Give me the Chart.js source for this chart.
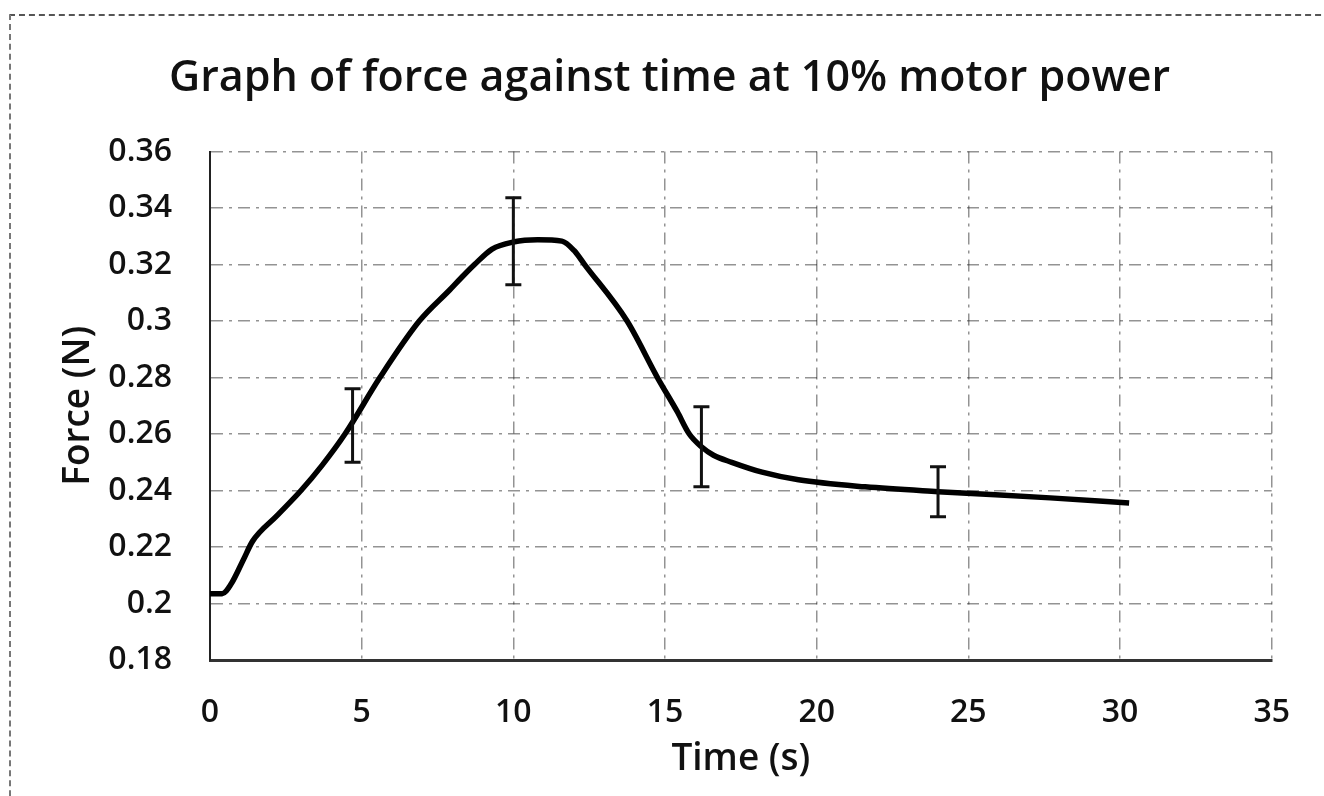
<!DOCTYPE html>
<html>
<head>
<meta charset="utf-8">
<script src="https://cdn.jsdelivr.net/npm/chart.js@4"></script>
<style>
  html, body { margin: 0; padding: 0; background: #fff; }
  #wrap { position: relative; width: 1324px; height: 796px; overflow: hidden; }
  #frame { position: absolute; left: 9px; top: 14px; width: 1330px; height: 820px;
           border-top: 2px dashed #555; border-left: 2px dashed #777; }
  canvas { position: absolute; left: 0; top: 0; }
</style>
</head>
<body>
<div id="wrap">
  <div id="frame"></div>
  <canvas id="forceChart" width="1324" height="796"></canvas>
</div>
<script>
// Data
const timeValues = [0, 0.4, 0.7, 1.1, 1.4, 2.2, 3.0, 3.7, 4.45, 5.6, 6.9, 7.9, 8.3, 8.72, 9.3, 10, 10.8, 11.6, 12.0, 12.35, 13.75, 14.75, 15.4, 15.8, 16.2, 16.6, 17.2, 18.2, 19.4, 21.6, 24, 27.7, 30.3];
const forceValues = [0.2035, 0.2035, 0.207, 0.2155, 0.222, 0.231, 0.240, 0.249, 0.260, 0.280, 0.300, 0.311, 0.3155, 0.320, 0.3255, 0.328, 0.3288, 0.3283, 0.325, 0.320, 0.300, 0.280, 0.268, 0.260, 0.2555, 0.2525, 0.250, 0.2465, 0.2438, 0.2413, 0.2396, 0.2374, 0.2356];

// Error bars
const errTimes = [4.7, 10, 16.2, 24];
const errLow = [0.250, 0.3129, 0.2413, 0.2307];
const errHigh = [0.276, 0.3437, 0.2697, 0.2484];

const fontFamily = "'Open Sans', 'Noto Sans', sans-serif";
const fontWeight = '600';
const gridDash = [12, 6, 3, 6];

// plugin: gambar error bar pakai skala chart
const errorBarPlugin = {
    id: 'errorBars',
    afterDatasetsDraw(chart) {
        const ctx = chart.ctx;
        const xs = chart.scales.x;
        const ys = chart.scales.y;
        ctx.save();
        ctx.strokeStyle = '#111';
        ctx.lineWidth = 3;
        errTimes.forEach((t, i) => {
            const px = xs.getPixelForValue(t);
            const top = ys.getPixelForValue(errHigh[i]);
            const bot = ys.getPixelForValue(errLow[i]);
            ctx.beginPath();
            ctx.moveTo(px, top);
            ctx.lineTo(px, bot);
            ctx.moveTo(px - 8, top);
            ctx.lineTo(px + 8, top);
            ctx.moveTo(px - 8, bot);
            ctx.lineTo(px + 8, bot);
            ctx.stroke();
        });
        ctx.restore();
    }
};

const ctx = document.getElementById('forceChart').getContext('2d');
const forceChart = new Chart(ctx, {
    type: 'line',
    data: {
        datasets: [{
            label: 'Force',
            data: timeValues.map((t, i) => ({ x: t, y: forceValues[i] })),
            borderColor: '#000',
            borderWidth: 5.5,
            pointRadius: 0,
            fill: false,
            cubicInterpolationMode: 'monotone'
        }]
    },
    options: {
        responsive: false,
        animation: false,
        layout: { padding: { left: 66, right: 51, top: 0, bottom: 0 } },
        plugins: {
            legend: { display: false },
            tooltip: { enabled: false },
            title: {
                display: true,
                text: 'Graph of force against time at 10% motor power',
                color: '#111',
                font: { family: fontFamily, size: 43, weight: fontWeight },
                padding: { top: 53, bottom: 47 }
            }
        },
        scales: {
            x: {
                type: 'linear',
                min: 0,
                max: 35,
                ticks: {
                    stepSize: 5,
                    color: '#111',
                    padding: 34,
                    font: { family: fontFamily, size: 32, weight: fontWeight }
                },
                grid: {
                    color: 'rgba(40,40,40,0.5)',
                    lineWidth: 1.5,
                    drawTicks: false
                },
                border: { display: true, color: '#333', width: 3, dash: gridDash },
                title: {
                    display: true,
                    text: 'Time (s)',
                    color: '#111',
                    font: { family: fontFamily, size: 37, weight: fontWeight },
                    padding: { top: 0, bottom: 14 }
                },
                afterFit(axis) { axis.height = 136; }
            },
            y: {
                min: 0.18,
                max: 0.36,
                ticks: {
                    stepSize: 0.02,
                    color: '#111',
                    padding: 38,
                    font: { family: fontFamily, size: 32, weight: fontWeight },
                    callback: v => String(Math.round(v * 100) / 100)
                },
                grid: {
                    color: 'rgba(40,40,40,0.5)',
                    lineWidth: 1.5,
                    drawTicks: false
                },
                border: { display: true, color: '#222', width: 2, dash: gridDash },
                title: {
                    display: true,
                    text: 'Force (N)',
                    color: '#111',
                    font: { family: fontFamily, size: 37, weight: fontWeight },
                    padding: { top: -10, bottom: 0 }
                },
                afterFit(axis) { axis.width = 144; }
            }
        }
    },
    plugins: [errorBarPlugin]
});
</script>
</body>
</html>
